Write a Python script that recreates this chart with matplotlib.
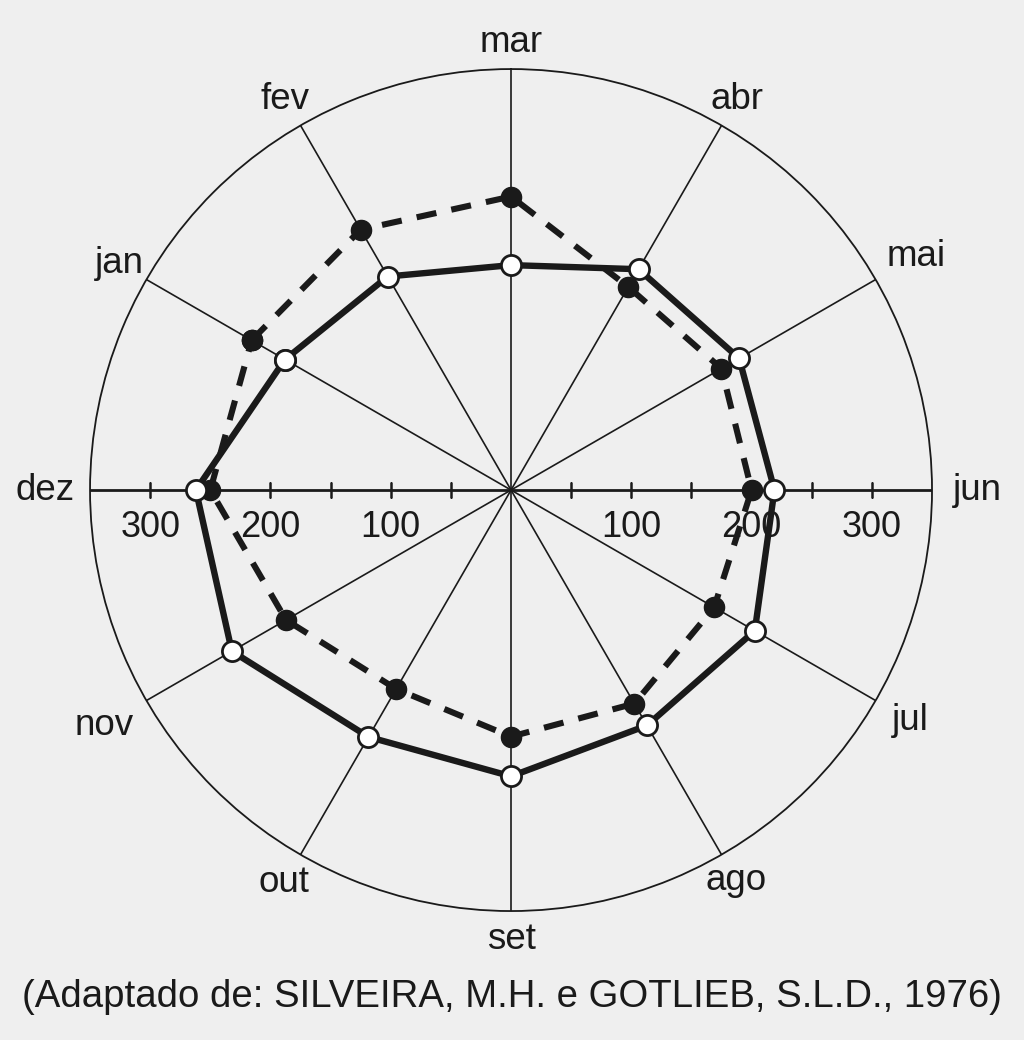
import numpy as np
import matplotlib
matplotlib.use("Agg")
import matplotlib.pyplot as plt

plt.rcParams['font.family'] = ['Liberation Sans', 'DejaVu Sans']

months = ["jan", "fev", "mar", "abr", "mai", "jun", "jul", "ago", "set", "out", "nov", "dez"]
solid_vals = [217, 205, 187, 212, 219, 219, 234, 226, 238, 237, 268, 262]
dashed_vals = [249, 250, 244, 195, 202, 200, 195, 205, 205, 191, 216, 250]
scale_ticks = [50, 100, 150, 200, 250, 300]
scale_labels = [100, 200, 300]
caption = "(Adaptado de: SILVEIRA, M.H. e GOTLIEB, S.L.D., 1976)"

ink = "#1a1a1a"
bg = "#efefef"

fig = plt.figure(figsize=(10.24, 10.40), dpi=100, facecolor=bg)
ax = fig.add_axes([0.0879, 0.124, 0.8223, 0.8096], projection="polar")
ax.set_facecolor(bg)
ax.set_theta_zero_location("N")
ax.set_theta_direction(-1)
ax.set_rlim(0, 350)
ax.grid(False)
ax.set_xticks([])
ax.set_yticks([])
ax.spines["polar"].set_linewidth(1.3)
ax.spines["polar"].set_color(ink)

# mar on top, clockwise
theta = np.deg2rad((np.arange(12) - 2) * 30.0)

for i, a in enumerate(theta):
    lw = 2.0 if months[i] in ("jun", "dez") else 1.2
    ax.plot([a, a], [0, 350], color=ink, lw=lw, zorder=1)

# scale ticks along the horizontal diameter
for m in ("jun", "dez"):
    a = theta[months.index(m)]
    ax.plot([a] * len(scale_ticks), scale_ticks, ls="none", marker="|",
            ms=12, mew=1.8, color=ink, zorder=1)
    for v in scale_labels:
        ax.annotate(str(v), (a, v), xytext=(0, -27), textcoords="offset points",
                    ha="center", va="center", fontsize=26, color=ink)

# month labels
label_r = [376, 375, 372, 375, 389, 388, 383, 375, 374, 377, 391, 387]
for i, m in enumerate(months):
    ax.text(theta[i], label_r[i], m, ha="center", va="center",
            fontsize=26.5, color=ink, clip_on=False)

tt = np.append(theta, theta[0])
ax.plot(tt, dashed_vals + dashed_vals[:1], color=ink, lw=4.4, ls=(0, (3.3, 2.5)),
        marker="o", ms=14.5, mfc=ink, mec=ink, zorder=3)
ax.plot(tt, solid_vals + solid_vals[:1], color=ink, lw=4.6, ls="-",
        marker="o", ms=14.5, mfc="white", mec=ink, mew=2, zorder=4)

fig.text(0.5, 1 - 997 / 1040, caption, ha="center", va="center",
         fontsize=27.6, color=ink)

fig.savefig("out.png", dpi=100, facecolor=bg)
